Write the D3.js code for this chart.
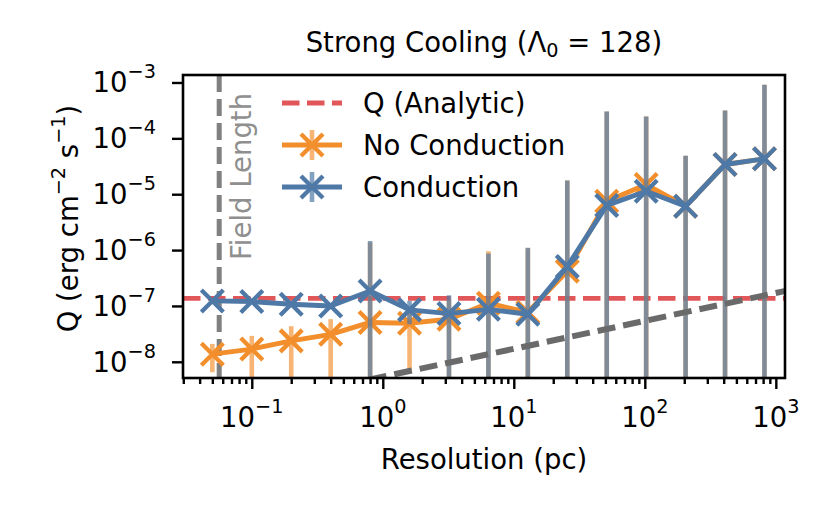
<!DOCTYPE html>
<html><head><meta charset="utf-8">
<script src="https://cdn.jsdelivr.net/npm/d3@7"></script>
<style>body{margin:0;background:#fff} text{font-family:"DejaVu Sans",sans-serif}</style>
</head><body><svg id="c" width="831" height="514"></svg>
<script>
// ---- data ----
const resolution = [0.05,0.1,0.2,0.4,0.8,1.6,3.2,6.4,12.8,25.6,51.2,102.4,204.8,409.6,819.2];
const qNoCond   = [1.37e-8,1.69e-8,2.37e-8,3.1e-8,5.06e-8,4.9e-8,5.8e-8,1.12e-7,7.7e-8,4.2e-7,7.5e-6,1.49e-5,6.1e-6,3.4e-5,4.3e-5];
const errNoCond = [0.72e-8,1.22e-8,1.97e-8,2.7e-8,1.32e-6,4.2e-8,7e-8,8.4e-7,1.0e-6,1.72e-5,2.955e-4,2.32e-4,4.29e-5,2.82e-4,8.67e-4];
const qCond     = [1.23e-7,1.2e-7,1.07e-7,1.0e-7,1.85e-7,8.5e-8,7.3e-8,8.7e-8,7.1e-8,5.1e-7,6.3e-6,1.13e-5,6.1e-6,3.4e-5,4.3e-5];
const errCond   = [1e-8,1e-8,1e-8,1.2e-8,1.27e-6,3.8e-8,8.2e-8,7.8e-7,1.03e-6,1.71e-5,2.97e-4,2.36e-4,4.29e-5,2.82e-4,8.67e-4];
const qAnalytic = 1.37e-7;
const fieldLength = 0.0564;
const slopeLineX = [0.5, 1200];
const slopeLineQ = [3.82e-9, 1.87e-7];
const xTickExps = [-1,0,1,2,3];
const yTickExps = [-8,-7,-6,-5,-4,-3];
const legendLabels = ["Q (Analytic)","No Conduction","Conduction"];

// ---- layout ----
const C = {blue:"#4e79a7", orange:"#f28e2b", red:"#e15759"};
const L = 183, R = 785, T = 75, B = 378;
const FS = 27.5;
const svg = d3.select("#c");
const x = d3.scaleLog().domain([Math.pow(10,-1.525), Math.pow(10,3.07)]).range([L,R]);
const y = d3.scaleLog().domain([Math.pow(10,-8.29), Math.pow(10,-2.866)]).range([B,T]);

svg.append("defs").append("clipPath").attr("id","clip")
  .append("rect").attr("x",L).attr("y",T).attr("width",R-L).attr("height",B-T);
const g = svg.append("g").attr("clip-path","url(#clip)");

// field length line
g.append("line").attr("x1",x(fieldLength)).attr("x2",x(fieldLength)).attr("y1",T).attr("y2",B)
  .attr("stroke","#808080").attr("stroke-width",5).attr("stroke-dasharray","17,7");
svg.append("text").attr("transform",`translate(${x(fieldLength)+32},260) rotate(-90)`)
  .attr("fill","#8f8f8f").attr("font-size",FS).text("Field Length");

// analytic line
g.append("line").attr("x1",L).attr("x2",R).attr("y1",y(qAnalytic)).attr("y2",y(qAnalytic))
  .attr("stroke",C.red).attr("stroke-width",4.8).attr("stroke-dasharray","17.5,7.5");

function series(q, err, color, op){
  const lo = d3.min(y.domain());
  g.selectAll(null).data(resolution).enter().append("line")
    .attr("x1",d=>x(d)).attr("x2",d=>x(d))
    .attr("y1",(d,i)=>y(Math.max(q[i]-err[i], lo*0.5)))
    .attr("y2",(d,i)=>y(q[i]+err[i]))
    .attr("stroke",color).attr("stroke-opacity",op).attr("stroke-width",4.6);
  g.append("path").datum(resolution.map((d,i)=>[d,q[i]]))
    .attr("d",d3.line().x(d=>x(d[0])).y(d=>y(d[1])))
    .attr("fill","none").attr("stroke",color).attr("stroke-width",4.9).attr("stroke-linejoin","round");
  const s = 11;
  g.selectAll(null).data(resolution).enter().append("path")
    .attr("d",(d,i)=>{const cx=x(d), cy=y(q[i]); return `M${cx-s},${cy-s}L${cx+s},${cy+s}M${cx-s},${cy+s}L${cx+s},${cy-s}`;})
    .attr("stroke",color).attr("stroke-width",4.3).attr("fill","none");
}
series(qNoCond, errNoCond, C.orange, 0.65);
series(qCond, errCond, C.blue, 0.7);

// slope reference line
g.append("path").datum(slopeLineX.map((d,i)=>[d,slopeLineQ[i]]))
  .attr("d",d3.line().x(d=>x(d[0])).y(d=>y(d[1])))
  .attr("stroke","#6a6a6a").attr("stroke-width",6).attr("stroke-dasharray","18,8").attr("fill","none");

// axes
const xMajors = xTickExps.map(e=>Math.pow(10,e));
const xMinors = [];
for (let e=-2;e<=3;e++) for (let k=2;k<=9;k++){const v=k*Math.pow(10,e); if (v>=x.domain()[0] && v<=x.domain()[1]) xMinors.push(v);}
const yMajors = yTickExps.map(e=>Math.pow(10,e));

const xa = svg.append("g").attr("transform",`translate(0,${B})`);
xa.call(d3.axisBottom(x).tickValues(xMajors).tickSize(11).tickFormat(""));
const xm = svg.append("g").attr("transform",`translate(0,${B})`);
xm.call(d3.axisBottom(x).tickValues(xMinors).tickSize(6).tickFormat(""));
const ya = svg.append("g").attr("transform",`translate(${L},0)`);
ya.call(d3.axisLeft(y).tickValues(yMajors).tickSize(11).tickFormat(""));
[xa,xm,ya].forEach(a=>{a.select(".domain").remove(); a.selectAll("line").attr("stroke","#000").attr("stroke-width",2.4);});

svg.append("rect").attr("x",L).attr("y",T).attr("width",R-L).attr("height",B-T)
  .attr("fill","none").attr("stroke","#000").attr("stroke-width",2.6);

function powLabel(sel, e){
  sel.append("tspan").text("10");
  sel.append("tspan").attr("font-size",FS*0.7).attr("dy",-14).text(e<0?"\u2212"+(-e):String(e));
}
xTickExps.forEach(e=>{
  const t = svg.append("text").attr("x",x(Math.pow(10,e))).attr("y",427).attr("text-anchor","middle").attr("font-size",FS);
  powLabel(t,e);
});
yTickExps.forEach(e=>{
  const t = svg.append("text").attr("x",156).attr("y",y(Math.pow(10,e))+10).attr("text-anchor","end").attr("font-size",FS);
  powLabel(t,e);
});

// axis titles
svg.append("text").attr("x",(L+R)/2).attr("y",469).attr("text-anchor","middle").attr("font-size",FS).text("Resolution (pc)");
const yl = svg.append("text").attr("transform",`translate(78,${(T+B)/2-8}) rotate(-90)`).attr("text-anchor","middle").attr("font-size",FS);
yl.append("tspan").text("Q (erg cm");
yl.append("tspan").attr("font-size",FS*0.7).attr("dy",-13).text("\u22122");
yl.append("tspan").attr("dy",13).text(" s");
yl.append("tspan").attr("font-size",FS*0.7).attr("dy",-13).text("\u22121");
yl.append("tspan").attr("dy",13).text(")");

const tt = svg.append("text").attr("x",(L+R)/2).attr("y",52).attr("text-anchor","middle").attr("font-size",FS);
tt.append("tspan").text("Strong Cooling (\u039B");
tt.append("tspan").attr("font-size",FS*0.7).attr("dy",5).text("0");
tt.append("tspan").attr("dy",-5).text(" = 128)");

// legend
const lx0 = 282, lx1 = 342, rows = [103,145,187];
svg.append("line").attr("x1",lx0).attr("x2",lx1).attr("y1",rows[0]).attr("y2",rows[0])
  .attr("stroke",C.red).attr("stroke-width",4.8).attr("stroke-dasharray","17.5,7.5");
[[C.orange,rows[1],0.65],[C.blue,rows[2],0.7]].forEach(([c,yy,op])=>{
  const cx=(lx0+lx1)/2, s=11;
  svg.append("line").attr("x1",cx).attr("x2",cx).attr("y1",yy-15).attr("y2",yy+15).attr("stroke",c).attr("stroke-opacity",op).attr("stroke-width",4.6);
  svg.append("line").attr("x1",lx0).attr("x2",lx1).attr("y1",yy).attr("y2",yy).attr("stroke",c).attr("stroke-width",4.9);
  svg.append("path").attr("d",`M${cx-s},${yy-s}L${cx+s},${yy+s}M${cx-s},${yy+s}L${cx+s},${yy-s}`).attr("stroke",c).attr("stroke-width",4.3);
});
legendLabels.forEach((t,i)=>svg.append("text").attr("x",363).attr("y",rows[i]+10).attr("font-size",FS).text(t));
</script></body></html>
